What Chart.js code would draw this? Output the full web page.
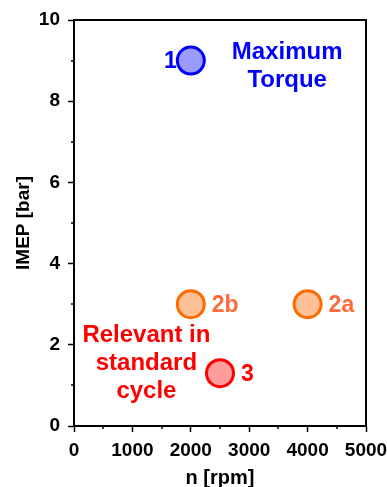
<!DOCTYPE html>
<html>
<head>
<meta charset="utf-8">
<script src="https://cdn.jsdelivr.net/npm/chart.js@4/dist/chart.umd.min.js"></script>
<style>
  html, body { margin: 0; padding: 0; background: #fff; }
  #wrap { width: 387px; height: 487px; position: relative; }
</style>
</head>
<body>
<div id="wrap"><canvas id="c" width="387" height="487"></canvas></div>
<script>
// Operating points: engine speed vs. indicated mean effective pressure
const pointNames = ['1', '2b', '2a', '3'];
const rpm = [2000, 2000, 4000, 2500];
const imep = [9, 3, 3, 1.3];

const fillColors = ['#9b9bff', '#ffc096', '#ffc096', '#ff9c9c'];
const edgeColors = ['#0000ff', '#ff6a00', '#ff6a00', '#ff0000'];
const nameColors = ['#0000ff', '#ff6a3a', '#ff6a3a', '#ff0000'];
// where each point's name sits relative to its marker
const nameSide = ['left', 'right', 'right', 'right'];

// Group notes, anchored in axis units
const noteLines = [['Maximum', 'Torque'], ['Relevant in', 'standard', 'cycle']];
const noteX = [3650, 1240];
const noteY = [8.85, 1.55];
const noteColors = ['#0000ff', '#ff0000'];

const xTicks = [0, 1000, 2000, 3000, 4000, 5000];
const yTicks = [0, 2, 4, 6, 8, 10];

const FONT = '"Liberation Sans", Arial, Helvetica, sans-serif';

const annotate = {
  id: 'annotate',
  afterDatasetsDraw(chart) {
    const ctx = chart.ctx;
    const xs = chart.scales.x, ys = chart.scales.y;
    const a = chart.chartArea;
    ctx.save();
    // frame around the plot
    ctx.strokeStyle = '#000';
    ctx.lineWidth = 2;
    ctx.strokeRect(a.left, a.top, a.right - a.left, a.bottom - a.top);
    // minor ticks
    ctx.lineWidth = 1.5;
    ctx.beginPath();
    for (let v = 500; v < 5000; v += 1000) {
      const px = Math.round(xs.getPixelForValue(v));
      ctx.moveTo(px, a.bottom);
      ctx.lineTo(px, a.bottom + 3);
    }
    for (let v = 1; v < 10; v += 2) {
      const py = Math.round(ys.getPixelForValue(v));
      ctx.moveTo(a.left, py);
      ctx.lineTo(a.left - 3, py);
    }
    ctx.stroke();
    // point names
    ctx.font = 'bold 23px ' + FONT;
    ctx.textBaseline = 'middle';
    pointNames.forEach((n, i) => {
      const px = xs.getPixelForValue(rpm[i]);
      const py = ys.getPixelForValue(imep[i]);
      ctx.fillStyle = nameColors[i];
      if (nameSide[i] === 'left') {
        ctx.textAlign = 'right';
        ctx.fillText(n, px - 14, py + 1);
      } else {
        ctx.textAlign = 'left';
        ctx.fillText(n, px + 21, py + 1);
      }
    });
    // group notes
    ctx.font = 'bold 24px ' + FONT;
    ctx.textAlign = 'center';
    noteLines.forEach((lines, k) => {
      const cx = xs.getPixelForValue(noteX[k]);
      const cy = ys.getPixelForValue(noteY[k]);
      const lh = 28;
      const start = cy - (lines.length - 1) * lh / 2;
      ctx.fillStyle = noteColors[k];
      lines.forEach((t, j) => ctx.fillText(t, cx, start + j * lh));
    });
    ctx.restore();
  }
};

new Chart(document.getElementById('c'), {
  type: 'scatter',
  data: {
    datasets: [{
      data: rpm.map((x, i) => ({ x, y: imep[i] })),
      backgroundColor: fillColors,
      borderColor: edgeColors,
      borderWidth: 3,
      pointRadius: 13.5,
      pointHoverRadius: 13.5
    }]
  },
  options: {
    responsive: false,
    animation: false,
    events: [],
    layout: { padding: { top: 20, right: 21, left: 0, bottom: 0 } },
    plugins: { legend: { display: false }, tooltip: { enabled: false } },
    scales: {
      x: {
        type: 'linear', min: 0, max: 5000,
        afterBuildTicks: s => { s.ticks = xTicks.map(v => ({ value: v })); },
        afterFit: s => { s.height = 61; s.paddingRight = 0; s.paddingLeft = 0; },
        grid: { drawOnChartArea: false, tickLength: 6, tickWidth: 1.5, tickColor: '#000' },
        border: { display: true, color: '#000', width: 2 },
        ticks: { color: '#000', padding: 7, maxRotation: 0, callback: v => String(v), font: { family: FONT, size: 19, weight: 'bold' } },
        title: { display: true, text: 'n [rpm]', color: '#000', padding: { top: 0, bottom: -3 }, font: { family: FONT, size: 20, weight: 'bold' } }
      },
      y: {
        type: 'linear', min: 0, max: 10,
        afterBuildTicks: s => { s.ticks = yTicks.map(v => ({ value: v })); },
        afterFit: s => { s.width = 74; s.paddingTop = 0; s.paddingBottom = 0; },
        grid: { drawOnChartArea: false, tickLength: 6, tickWidth: 1.5, tickColor: '#000' },
        border: { display: true, color: '#000', width: 2 },
        ticks: { color: '#000', padding: 8, callback: v => String(v), font: { family: FONT, size: 19, weight: 'bold' } },
        title: { display: true, text: 'IMEP [bar]', color: '#000', padding: { top: 12, bottom: 0 }, font: { family: FONT, size: 19, weight: 'bold' } }
      }
    }
  },
  plugins: [annotate]
});
</script>
</body>
</html>
